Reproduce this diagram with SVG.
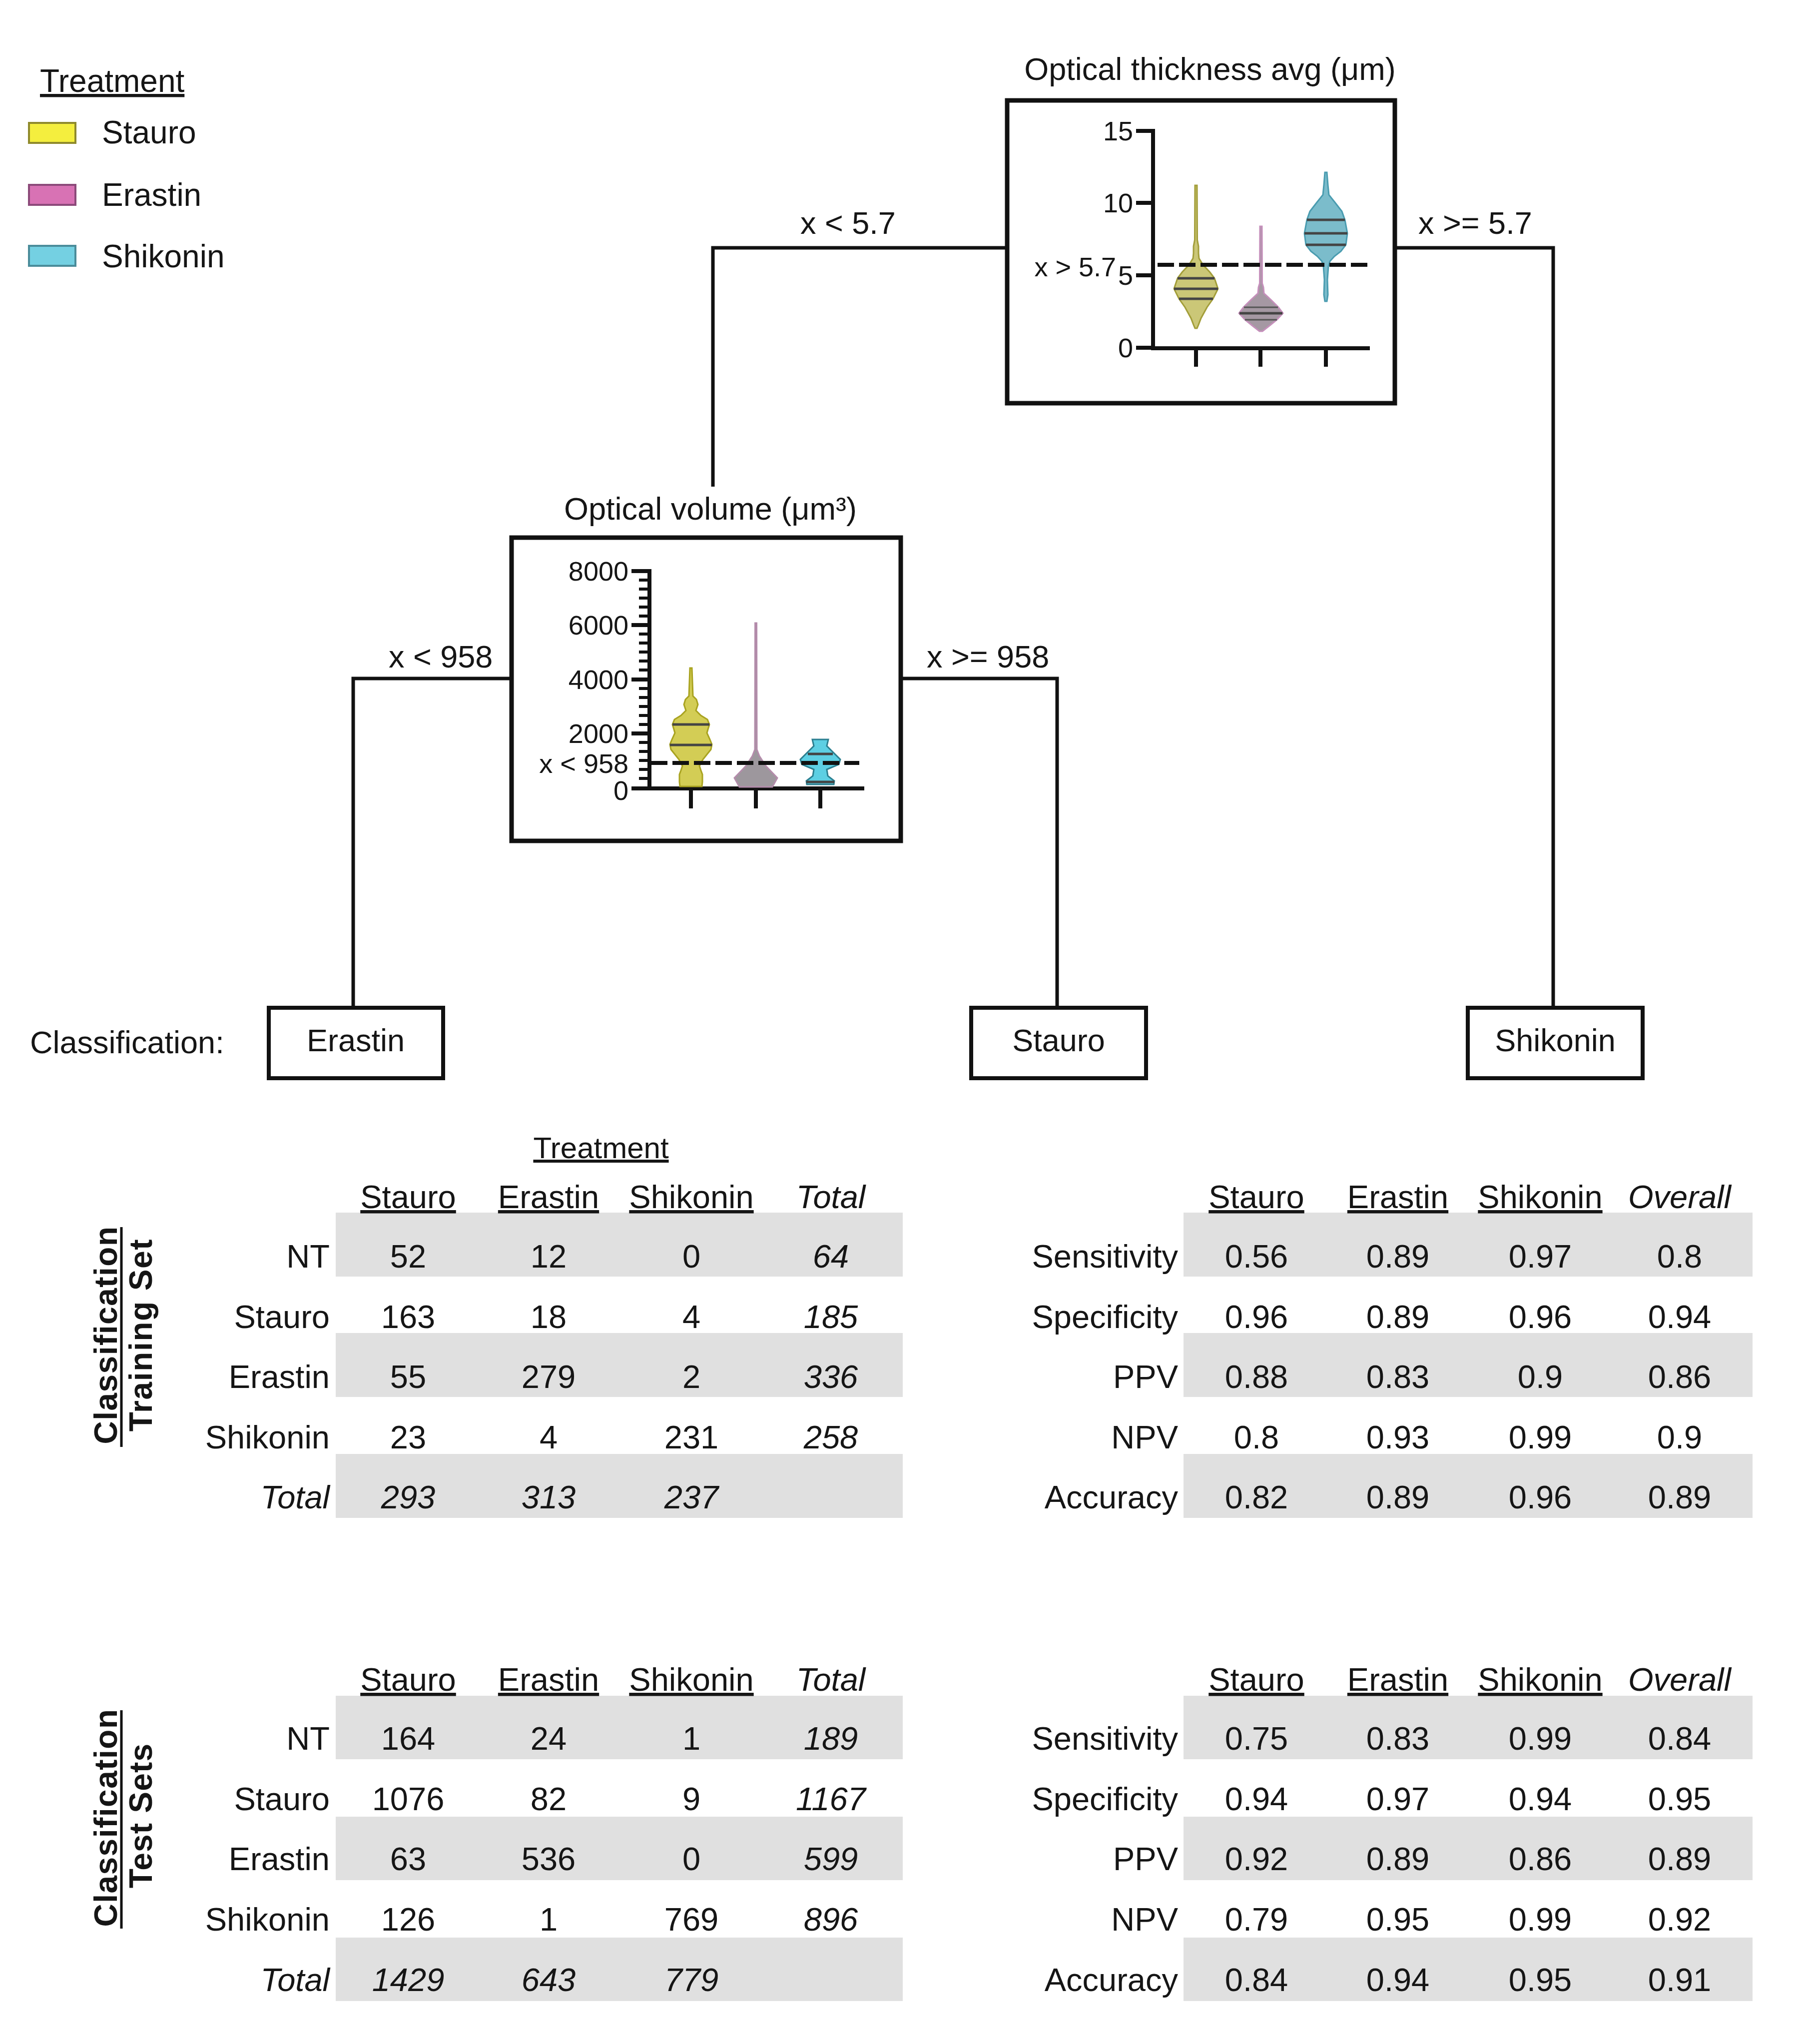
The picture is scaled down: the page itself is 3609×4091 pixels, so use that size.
<svg xmlns="http://www.w3.org/2000/svg" width="3609" height="4091" viewBox="0 0 3609 4091">
<style>
text{font-family:"Liberation Sans",Arial,sans-serif;fill:#151515}
.t63{font-size:63px}
.t64{font-size:64px}
.t65{font-size:65px}
.tick{font-size:54px;text-anchor:end}
.mid{text-anchor:middle}
.end{text-anchor:end}
.it{font-style:italic}
.ul{text-decoration:underline}
.vl{font-size:64px;font-weight:bold;text-anchor:middle}
.box{fill:#fff;stroke:#111;stroke-width:9}
.leaf{fill:#fff;stroke:#111;stroke-width:8}
.conn{fill:none;stroke:#111;stroke-width:7}
.ax{fill:none;stroke:#111;stroke-width:8;stroke-linecap:butt}
.mt{fill:none;stroke:#111;stroke-width:6}
.dash{fill:none;stroke:#111;stroke-width:8;stroke-dasharray:33 10}
.band{fill:#e0e0e0}
.q{stroke:#444;stroke-width:5;fill:none}
.qt{stroke:#555;stroke-width:3;fill:none}
</style>

<!-- Legend -->
<g id="legend">
  <text class="t64 ul" x="80" y="184">Treatment</text>
  <rect x="58" y="246" width="93" height="40" fill="#f4ee3e" stroke="#8f8a2c" stroke-width="4"/>
  <text class="t64" x="204" y="287">Stauro</text>
  <rect x="58" y="370" width="93" height="40" fill="#d872b4" stroke="#8c4a7a" stroke-width="4"/>
  <text class="t64" x="204" y="412">Erastin</text>
  <rect x="58" y="492" width="93" height="40" fill="#74d0e2" stroke="#4a8c9a" stroke-width="4"/>
  <text class="t64" x="204" y="535">Shikonin</text>
</g>

<!-- Connectors -->
<g id="connectors">
  <path class="conn" d="M2016,496 H1427 V974"/>
  <path class="conn" d="M2792,496 H3109 V2017"/>
  <path class="conn" d="M1024,1358 H707 V2017"/>
  <path class="conn" d="M1803,1358 H2116 V2017"/>
  <text class="t63" x="1602" y="468">x &lt; 5.7</text>
  <text class="t63" x="2839" y="468">x &gt;= 5.7</text>
  <text class="t63" x="778" y="1336">x &lt; 958</text>
  <text class="t63" x="1855" y="1336">x &gt;= 958</text>
</g>

<!-- Node: Optical thickness -->
<g id="node-thickness">
  <text class="t63 mid" x="2422" y="160">Optical thickness avg (μm)</text>
  <rect class="box" x="2016" y="201" width="776" height="606"/>
  <path class="ax" d="M2308,258 V701 M2304,697 H2742"/>
  <path class="ax" d="M2274,262 H2308 M2274,406 H2308 M2274,551 H2308 M2274,696 H2308"/>
  <path class="ax" d="M2394,697 V734 M2523,697 V734 M2654,697 V734"/>
  <text class="tick" x="2268" y="281">15</text>
  <text class="tick" x="2268" y="425">10</text>
  <text class="tick" x="2268" y="570">5</text>
  <text class="tick" x="2268" y="715">0</text>
  <text class="tick" x="2234" y="553">x &gt; 5.7</text>
  <path fill="#cbc777" stroke="#a39e3a" stroke-width="3" d="M2396,371 L2396.5,480 L2399,493 L2399,507 L2400,517 L2408,530 L2422,545 L2431,557 L2438,578 L2428,598 L2416,615 L2404,637 L2399,650 L2396,657 L2392,657 L2389,650 L2384,637 L2372,615 L2360,598 L2350,578 L2357,557 L2366,545 L2380,530 L2388,517 L2389,507 L2389,493 L2391.5,480 L2392,371 Z"/>
  <path class="q" d="M2357,557 H2431 M2350,578 H2438 M2360,598 H2428"/>
  <path fill="#a598a3" stroke="#c590bb" stroke-width="3" d="M2526,453 L2526.5,567 L2529,575 L2530,587 L2544,600 L2559,615 L2568,627 L2556,640 L2541,652 L2527,663 L2521,663 L2507,652 L2492,640 L2480,627 L2489,615 L2504,600 L2518,587 L2519,575 L2521.5,567 L2522,453 Z"/>
  <path class="qt" d="M2490,615 H2558 M2492,640 H2556"/>
  <path class="q" d="M2481,627 H2567"/>
  <path fill="#7bbccb" stroke="#4a9cb0" stroke-width="3" d="M2656,345 L2658,370 L2660,390 L2672,405 L2686,423 L2692,440 L2697,467 L2694,490 L2684,503 L2671,513 L2662,523 L2659,533 L2657,560 L2658,590 L2656,603 L2652,603 L2650,590 L2651,560 L2649,533 L2646,523 L2637,513 L2624,503 L2614,490 L2611,467 L2616,440 L2622,423 L2636,405 L2648,390 L2650,370 L2652,345 Z"/>
  <path class="q" d="M2616,440 H2692 M2611,467 H2697 M2614,490 H2694"/>
  <path class="dash" d="M2317,530 H2747"/>
</g>

<!-- Node: Optical volume -->
<g id="node-volume">
  <text class="t63 mid" x="1422" y="1040">Optical volume (μm³)</text>
  <rect class="box" x="1024" y="1076" width="779" height="607"/>
  <path class="ax" d="M1300,1139 V1582 M1264,1578 H1730"/>
  <path class="ax" d="M1264,1143 H1300 M1264,1251 H1300 M1264,1360 H1300 M1264,1468 H1300"/>
  <path class="mt" d="M1279,1161 H1300 M1279,1179 H1300 M1279,1197 H1300 M1279,1215 H1300 M1279,1233 H1300 M1279,1269 H1300 M1279,1287 H1300 M1279,1305 H1300 M1279,1323 H1300 M1279,1341 H1300 M1279,1378 H1300 M1279,1396 H1300 M1279,1414 H1300 M1279,1432 H1300 M1279,1450 H1300 M1279,1486 H1300 M1279,1504 H1300 M1279,1522 H1300 M1279,1540 H1300 M1279,1558 H1300"/>
  <path class="ax" d="M1383,1578 V1618 M1513,1578 V1618 M1642,1578 V1618"/>
  <text class="tick" x="1258" y="1162">8000</text>
  <text class="tick" x="1258" y="1270">6000</text>
  <text class="tick" x="1258" y="1379">4000</text>
  <text class="tick" x="1258" y="1487">2000</text>
  <text class="tick" x="1258" y="1547">x &lt; 958</text>
  <text class="tick" x="1258" y="1601">0</text>
  <path fill="#d3cd55" stroke="#a9a320" stroke-width="3" d="M1385,1337 L1387,1393 L1394,1400 L1397,1410 L1393,1422 L1403,1432 L1416,1440 L1420,1450 L1417,1460 L1415,1467 L1421,1480 L1425,1490 L1423,1500 L1415,1510 L1407,1520 L1400,1533 L1403,1542 L1406,1550 L1406,1565 L1405,1574 L1361,1574 L1360,1565 L1360,1550 L1363,1542 L1366,1533 L1359,1520 L1351,1510 L1343,1500 L1341,1490 L1345,1480 L1351,1467 L1349,1460 L1346,1450 L1350,1440 L1363,1432 L1373,1422 L1369,1410 L1372,1400 L1379,1393 L1381,1337 Z"/>
  <path class="q" d="M1346,1450 H1420 M1341,1491 H1425"/>
  <path fill="#9d979d" stroke="#b48cab" stroke-width="3" d="M1514.5,1247 L1515,1500 L1520,1513 L1533,1533 L1556,1557 L1546,1575 L1480,1575 L1470,1557 L1493,1533 L1506,1513 L1511,1500 L1511.5,1247 Z"/>
  <path fill="#5dcfe3" stroke="#2b7f90" stroke-width="3" d="M1658,1480 L1655,1493 L1669,1507 L1682,1520 L1679,1530 L1655,1540 L1657,1553 L1670,1563 L1669,1570 L1615,1570 L1614,1563 L1627,1553 L1629,1540 L1605,1530 L1602,1520 L1615,1507 L1629,1493 L1626,1480 Z"/>
  <path class="q" d="M1617,1509 H1667 M1614,1565 H1670"/>
  <path class="dash" d="M1303,1527 H1720"/>
</g>

<!-- Leaves -->
<text class="t63" x="60" y="2108">Classification:</text>
<g id="leaf-erastin">
  <rect class="leaf" x="538" y="2017" width="349" height="141"/>
  <text class="t63 mid" x="712" y="2104">Erastin</text>
</g>
<g id="leaf-stauro">
  <rect class="leaf" x="1944" y="2017" width="350" height="141"/>
  <text class="t63 mid" x="2119" y="2104">Stauro</text>
</g>
<g id="leaf-shikonin">
  <rect class="leaf" x="2938" y="2017" width="350" height="141"/>
  <text class="t63 mid" x="3113" y="2104">Shikonin</text>
</g>

<!-- Training confusion table -->
<g id="table-train">
  <rect class="band" x="672" y="2427" width="1135" height="128"/>
  <rect class="band" x="672" y="2668" width="1135" height="128"/>
  <rect class="band" x="672" y="2910" width="1135" height="128"/>
  <text class="mid ul" style="font-size:60px" x="1203" y="2318">Treatment</text>
  <g class="t65">
    <text class="mid ul" x="817" y="2418">Stauro</text>
    <text class="mid ul" x="1098" y="2418">Erastin</text>
    <text class="mid ul" x="1384" y="2418">Shikonin</text>
    <text class="mid it" x="1663" y="2418">Total</text>
    <text class="end" x="660" y="2537">NT</text>
    <text class="end" x="660" y="2658">Stauro</text>
    <text class="end" x="660" y="2778">Erastin</text>
    <text class="end" x="660" y="2899">Shikonin</text>
    <text class="end it" x="660" y="3019">Total</text>
    <text class="mid" x="817" y="2537">52</text><text class="mid" x="1098" y="2537">12</text><text class="mid" x="1384" y="2537">0</text><text class="mid it" x="1663" y="2537">64</text>
    <text class="mid" x="817" y="2658">163</text><text class="mid" x="1098" y="2658">18</text><text class="mid" x="1384" y="2658">4</text><text class="mid it" x="1663" y="2658">185</text>
    <text class="mid" x="817" y="2778">55</text><text class="mid" x="1098" y="2778">279</text><text class="mid" x="1384" y="2778">2</text><text class="mid it" x="1663" y="2778">336</text>
    <text class="mid" x="817" y="2899">23</text><text class="mid" x="1098" y="2899">4</text><text class="mid" x="1384" y="2899">231</text><text class="mid it" x="1663" y="2899">258</text>
    <text class="mid it" x="817" y="3019">293</text><text class="mid it" x="1098" y="3019">313</text><text class="mid it" x="1384" y="3019">237</text>
  </g>
  <text class="vl" style="letter-spacing:1.5px" transform="translate(234,2672) rotate(-90)">Classification</text>
  <line x1="243" y1="2456" x2="243" y2="2896" stroke="#111" stroke-width="5"/>
  <text class="vl" style="letter-spacing:1.7px" transform="translate(304,2672) rotate(-90)">Training Set</text>
</g>

<!-- Training metrics table -->
<g id="metrics-train">
  <rect class="band" x="2369" y="2427" width="1139" height="128"/>
  <rect class="band" x="2369" y="2668" width="1139" height="128"/>
  <rect class="band" x="2369" y="2910" width="1139" height="128"/>
  <g class="t65">
    <text class="mid ul" x="2515" y="2418">Stauro</text>
    <text class="mid ul" x="2798" y="2418">Erastin</text>
    <text class="mid ul" x="3083" y="2418">Shikonin</text>
    <text class="mid it" x="3362" y="2418">Overall</text>
    <text class="end" x="2358" y="2537">Sensitivity</text>
    <text class="end" x="2358" y="2658">Specificity</text>
    <text class="end" x="2358" y="2778">PPV</text>
    <text class="end" x="2358" y="2899">NPV</text>
    <text class="end" x="2358" y="3019">Accuracy</text>
    <text class="mid" x="2515" y="2537">0.56</text><text class="mid" x="2798" y="2537">0.89</text><text class="mid" x="3083" y="2537">0.97</text><text class="mid" x="3362" y="2537">0.8</text>
    <text class="mid" x="2515" y="2658">0.96</text><text class="mid" x="2798" y="2658">0.89</text><text class="mid" x="3083" y="2658">0.96</text><text class="mid" x="3362" y="2658">0.94</text>
    <text class="mid" x="2515" y="2778">0.88</text><text class="mid" x="2798" y="2778">0.83</text><text class="mid" x="3083" y="2778">0.9</text><text class="mid" x="3362" y="2778">0.86</text>
    <text class="mid" x="2515" y="2899">0.8</text><text class="mid" x="2798" y="2899">0.93</text><text class="mid" x="3083" y="2899">0.99</text><text class="mid" x="3362" y="2899">0.9</text>
    <text class="mid" x="2515" y="3019">0.82</text><text class="mid" x="2798" y="3019">0.89</text><text class="mid" x="3083" y="3019">0.96</text><text class="mid" x="3362" y="3019">0.89</text>
  </g>
</g>

<!-- Test confusion table -->
<g id="table-test">
  <rect class="band" x="672" y="3394" width="1135" height="127"/>
  <rect class="band" x="672" y="3636" width="1135" height="127"/>
  <rect class="band" x="672" y="3878" width="1135" height="127"/>
  <g class="t65">
    <text class="mid ul" x="817" y="3384">Stauro</text>
    <text class="mid ul" x="1098" y="3384">Erastin</text>
    <text class="mid ul" x="1384" y="3384">Shikonin</text>
    <text class="mid it" x="1663" y="3384">Total</text>
    <text class="end" x="660" y="3502">NT</text>
    <text class="end" x="660" y="3623">Stauro</text>
    <text class="end" x="660" y="3743">Erastin</text>
    <text class="end" x="660" y="3864">Shikonin</text>
    <text class="end it" x="660" y="3985">Total</text>
    <text class="mid" x="817" y="3502">164</text><text class="mid" x="1098" y="3502">24</text><text class="mid" x="1384" y="3502">1</text><text class="mid it" x="1663" y="3502">189</text>
    <text class="mid" x="817" y="3623">1076</text><text class="mid" x="1098" y="3623">82</text><text class="mid" x="1384" y="3623">9</text><text class="mid it" x="1663" y="3623">1167</text>
    <text class="mid" x="817" y="3743">63</text><text class="mid" x="1098" y="3743">536</text><text class="mid" x="1384" y="3743">0</text><text class="mid it" x="1663" y="3743">599</text>
    <text class="mid" x="817" y="3864">126</text><text class="mid" x="1098" y="3864">1</text><text class="mid" x="1384" y="3864">769</text><text class="mid it" x="1663" y="3864">896</text>
    <text class="mid it" x="817" y="3985">1429</text><text class="mid it" x="1098" y="3985">643</text><text class="mid it" x="1384" y="3985">779</text>
  </g>
  <text class="vl" style="letter-spacing:1.5px" transform="translate(234,3638) rotate(-90)">Classification</text>
  <line x1="243" y1="3423" x2="243" y2="3860" stroke="#111" stroke-width="5"/>
  <text class="vl" style="letter-spacing:1.2px" transform="translate(304,3634) rotate(-90)">Test Sets</text>
</g>

<!-- Test metrics table -->
<g id="metrics-test">
  <rect class="band" x="2369" y="3394" width="1139" height="127"/>
  <rect class="band" x="2369" y="3636" width="1139" height="127"/>
  <rect class="band" x="2369" y="3878" width="1139" height="127"/>
  <g class="t65">
    <text class="mid ul" x="2515" y="3384">Stauro</text>
    <text class="mid ul" x="2798" y="3384">Erastin</text>
    <text class="mid ul" x="3083" y="3384">Shikonin</text>
    <text class="mid it" x="3362" y="3384">Overall</text>
    <text class="end" x="2358" y="3502">Sensitivity</text>
    <text class="end" x="2358" y="3623">Specificity</text>
    <text class="end" x="2358" y="3743">PPV</text>
    <text class="end" x="2358" y="3864">NPV</text>
    <text class="end" x="2358" y="3985">Accuracy</text>
    <text class="mid" x="2515" y="3502">0.75</text><text class="mid" x="2798" y="3502">0.83</text><text class="mid" x="3083" y="3502">0.99</text><text class="mid" x="3362" y="3502">0.84</text>
    <text class="mid" x="2515" y="3623">0.94</text><text class="mid" x="2798" y="3623">0.97</text><text class="mid" x="3083" y="3623">0.94</text><text class="mid" x="3362" y="3623">0.95</text>
    <text class="mid" x="2515" y="3743">0.92</text><text class="mid" x="2798" y="3743">0.89</text><text class="mid" x="3083" y="3743">0.86</text><text class="mid" x="3362" y="3743">0.89</text>
    <text class="mid" x="2515" y="3864">0.79</text><text class="mid" x="2798" y="3864">0.95</text><text class="mid" x="3083" y="3864">0.99</text><text class="mid" x="3362" y="3864">0.92</text>
    <text class="mid" x="2515" y="3985">0.84</text><text class="mid" x="2798" y="3985">0.94</text><text class="mid" x="3083" y="3985">0.95</text><text class="mid" x="3362" y="3985">0.91</text>
  </g>
</g>
</svg>
